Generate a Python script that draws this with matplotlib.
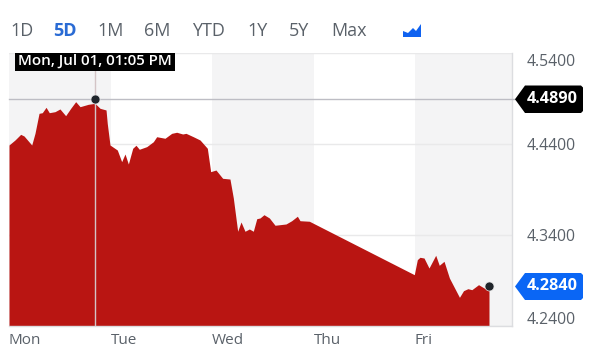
import matplotlib
matplotlib.use("Agg")
import matplotlib.pyplot as plt
from matplotlib.patches import Polygon, Rectangle
from matplotlib.transforms import ScaledTranslation

plt.rcParams['font.family'] = ['Open Sans', 'DejaVu Sans']

ranges = ["1D", "5D", "1M", "6M", "YTD", "1Y", "5Y", "Max"]
days = ["Mon", "Tue", "Wed", "Thu", "Fri"]
y_ticks = [4.24, 4.34, 4.44, 4.54]
hover_label = "Mon, Jul 01, 01:05 PM"
hover_day, hover_value = 0.847, 4.4890
last_day, last_value = 4.729, 4.2840

t = [0, .059, .115, .148, .224, .256, .296, .328, .365, .397, .453, .502, .558, .608, .657, .700,
     .781, .847, .897, .956, .968, .995, 1.067, 1.110, 1.143, 1.176, 1.219, 1.251, 1.284, 1.357,
     1.422, 1.455, 1.537, 1.603, 1.652, 1.711, 1.744, 1.816, 1.882, 1.954, 1.987, 2.039, 2.105,
     2.177, 2.210, 2.253, 2.286, 2.325, 2.368, 2.407, 2.441, 2.473, 2.512, 2.565, 2.621, 2.729,
     2.785, 2.841, 2.867, 2.959, 3.993, 4.023, 4.049, 4.089, 4.138, 4.204, 4.239, 4.286, 4.339,
     4.438, 4.478, 4.521, 4.560, 4.626, 4.692, 4.729]
price = [4.4389, 4.4444, 4.4506, 4.4488, 4.4389, 4.4517, 4.4737, 4.4744, 4.4803, 4.4744, 4.4755,
         4.4785, 4.4711, 4.4792, 4.4865, 4.4810, 4.4836, 4.4847, 4.4792, 4.4774, 4.4627, 4.4389,
         4.4334, 4.4206, 4.4290, 4.4180, 4.4353, 4.4386, 4.4342, 4.4371, 4.4425, 4.4480, 4.4463,
         4.4517, 4.4529, 4.4510, 4.4517, 4.4480, 4.4444, 4.4353, 4.4096, 4.4114, 4.4023, 4.4015,
         4.3807, 4.3441, 4.3543, 4.3441, 4.3466, 4.3441, 4.3579, 4.3587, 4.3623, 4.3587, 4.3507,
         4.3521, 4.3557, 4.3606, 4.3557, 4.3551, 4.2964, 4.3129, 4.3155, 4.3147, 4.3037, 4.3177,
         4.3067, 4.3111, 4.2927, 4.2715, 4.2788, 4.2810, 4.2799, 4.2854, 4.2810, 4.2840]

W, H = 605, 358
fig = plt.figure(figsize=(W / 100, H / 100), dpi=100, facecolor="white")
ax = fig.add_axes([9 / W, 1 - 326 / H, 503 / W, 273 / H])
ax.set_xlim(0, 503 / 101.5)
ax.set_ylim(4.24, 4.54)

TEXT = "#5a6169"
for a, b in [(0, 1), (2, 3), (4, 503 / 101.5)]:
    ax.axvspan(a, b, color="#f4f4f5", lw=0, zorder=0)
ax.grid(axis="y", color="#e9e9ea", lw=1, zorder=1)
ax.set_axisbelow(True)
ax.fill_between(t, price, 4.24, color="#b91512", lw=0, zorder=2)
ax.axvline(hover_day, color="#d3c4c6", lw=1, zorder=3)
ax.plot([0, 1.04 * 503 / 101.5 / 1.03], [hover_value] * 2, color="#bdbdc4", lw=1, zorder=3, clip_on=False)
ax.plot([hover_day, last_day], [hover_value, last_value], ls="", marker="o", ms=6.5,
        mfc="#20252b", mec="#e8e8e8", mew=0.5, zorder=5)

for s in ["top", "left"]:
    ax.spines[s].set_visible(False)
for s in ["right", "bottom"]:
    ax.spines[s].set_color("#dcdde0")
    ax.spines[s].set_linewidth(1)

ax.set_xticks(range(len(days)), days, color=TEXT, fontsize=11, ha="left")
ax.tick_params(axis="x", length=0, pad=5)
ax.yaxis.tick_right()
ax.set_yticks(y_ticks, [f"{v:.4f}" for v in y_ticks], color=TEXT, fontsize=11.3, va="center")
ax.tick_params(axis="y", length=0, pad=10.8)
for lab, dy in zip(ax.get_yticklabels(), [6, -2, -2, -9]):
    lab.set_transform(lab.get_transform() + ScaledTranslation(0, dy / 100, fig.dpi_scale_trans))


def px(x, y):
    return (x / W, 1 - y / H)


# range selector
tab_x = [10, 53, 97, 144, 192, 247, 289, 331]
for name, x in zip(ranges, tab_x):
    active = name == "5D"
    fig.text(*px(x, 30.5), name, fontsize=13, va="center", ha="left",
             color="#2a6bd4" if active else TEXT, fontweight="bold" if active else "normal")
icon = [(403, 37), (403, 31), (408, 33), (413, 28), (416, 31), (421, 24), (421, 37)]
fig.add_artist(Polygon([px(*p) for p in icon], closed=True, fc="#0f62f0", ec="none",
                       transform=fig.transFigure))

# hover tooltip
fig.add_artist(Rectangle(px(15, 71), 160 / W, 18 / H, fc="black", ec="none",
                         transform=fig.transFigure, zorder=6))
fig.text(*px(95, 60.5), hover_label, color="white", fontsize=10.9, fontweight="semibold",
         ha="center", va="center", zorder=7)


def badge(y0, y1, color, label):
    ym = (y0 + y1) / 2
    pts = [(515, ym), (525, y0), (581, y0), (583, y0 + 2), (583, y1 - 2), (581, y1), (525, y1)]
    fig.add_artist(Polygon([px(*p) for p in pts], closed=True, fc=color, ec="none",
                           transform=fig.transFigure, zorder=6))
    fig.text(*px(552, ym - 0.5), label, color="white", fontsize=11.7, fontweight="bold",
             ha="center", va="center", zorder=7)


badge(85.5, 113, "black", f"{hover_value:.4f}")
badge(273, 300, "#0a66f5", f"{last_value:.4f}")

fig.savefig("out.png", dpi=100)
